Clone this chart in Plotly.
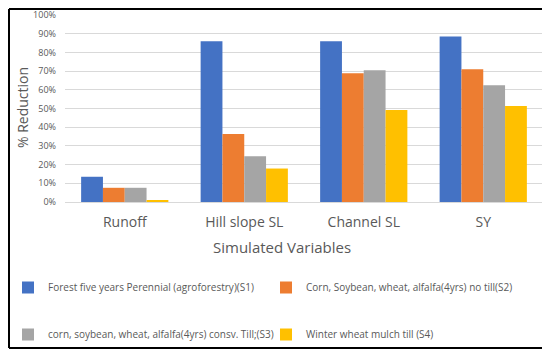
import plotly.graph_objects as go

categories = ["Runoff", "Hill slope SL", "Channel SL", "SY"]
series_names = [
    "Forest five years Perennial (agroforestry)(S1)",
    "Corn, Soybean, wheat, alfalfa(4yrs) no till(S2)",
    "corn, soybean, wheat, alfalfa(4yrs) consv. Till;(S3)",
    "Winter wheat mulch till (S4)",
]
s1 = [0.135, 0.86, 0.86, 0.885]
s2 = [0.076, 0.363, 0.689, 0.71]
s3 = [0.076, 0.244, 0.705, 0.624]
s4 = [0.01, 0.179, 0.492, 0.513]
colors = ["#4472C4", "#ED7D31", "#A5A5A5", "#FFC000"]
tick_vals = [i / 10 for i in range(11)]
tick_text = [f"{i*10}%" for i in range(11)]

# page is offset by the 8px body margin; work in figure pixel coordinates
OFF = 8
W, H = 550 - OFF, 353 - OFF
L, R, T, B = 65 - OFF, W - (543 - OFF), 15 - OFF, H - (202 - OFF)
pw, ph = W - L - R, H - T - B

def px_x(x):
    return (x - OFF - L) / pw

def px_y(y):
    return (H - B - (y - OFF)) / ph

font = "Open Sans, sans-serif"
legend_of = ["legend", "legend2", "legend", "legend2"]

fig = go.Figure()
for i, (name, vals) in enumerate(zip(series_names, [s1, s2, s3, s4])):
    fig.add_trace(go.Bar(
        x=categories, y=vals, name=name,
        marker=dict(color=colors[i], line=dict(width=0)),
        legend=legend_of[i], legendgroup=f"g{i}",
    ))

def legend_cfg(x_page):
    return dict(
        orientation="v", xref="container", yref="container",
        x=(x_page - OFF) / W, y=(H - (273 - OFF)) / H,
        xanchor="left", yanchor="top",
        itemwidth=30, tracegroupgap=28,
        font=dict(size=10, color="#595959"), bgcolor="rgba(0,0,0,0)",
    )

# border of the chart area (page pixel coordinates)
bx0, bx1, by0, by1 = OFF + 1, 543, OFF + 1, 348
border = [
    (bx0, by0, bx0, by1), (bx0, by0, bx1, by0),
    (bx1, by0, bx1, by1), (bx0, by1, bx1, by1),
]
shapes = [
    dict(type="line", xref="paper", yref="paper",
         x0=px_x(a), y0=px_y(b), x1=px_x(c), y1=px_y(d),
         line=dict(color="black", width=2))
    for a, b, c, d in border
]

fig.update_layout(
    width=W, height=H,
    margin=dict(l=L, r=R, t=T, b=B, autoexpand=False),
    paper_bgcolor="white", plot_bgcolor="white",
    barmode="group", bargap=0.27, bargroupgap=0,
    font=dict(family=font, color="#595959"),
    xaxis=dict(
        showgrid=False, showline=False, ticks="",
        tickfont=dict(size=14, color="#595959"),
        ticklabelstandoff=10,
    ),
    yaxis=dict(
        range=[0, 1.0], tickvals=tick_vals, ticktext=tick_text,
        showgrid=True, gridcolor="#D9D9D9", gridwidth=1,
        zeroline=True, zerolinecolor="#D9D9D9", zerolinewidth=1,
        tickfont=dict(size=9, color="#595959"),
        ticks="", ticklabelstandoff=8,
    ),
    annotations=[
        dict(text="Simulated Variables", xref="paper", yref="paper",
             x=px_x(282), y=px_y(247), xanchor="center", yanchor="middle",
             showarrow=False, font=dict(size=15, color="#595959")),
        dict(text="% Reduction", xref="paper", yref="paper", textangle=-90,
             x=px_x(22), y=px_y(108), xanchor="center", yanchor="middle",
             showarrow=False, font=dict(size=14, color="#595959")),
    ],
    shapes=shapes,
    legend=legend_cfg(OFF),
    legend2=legend_cfg(266),
)

fig.write_html("out.html")
